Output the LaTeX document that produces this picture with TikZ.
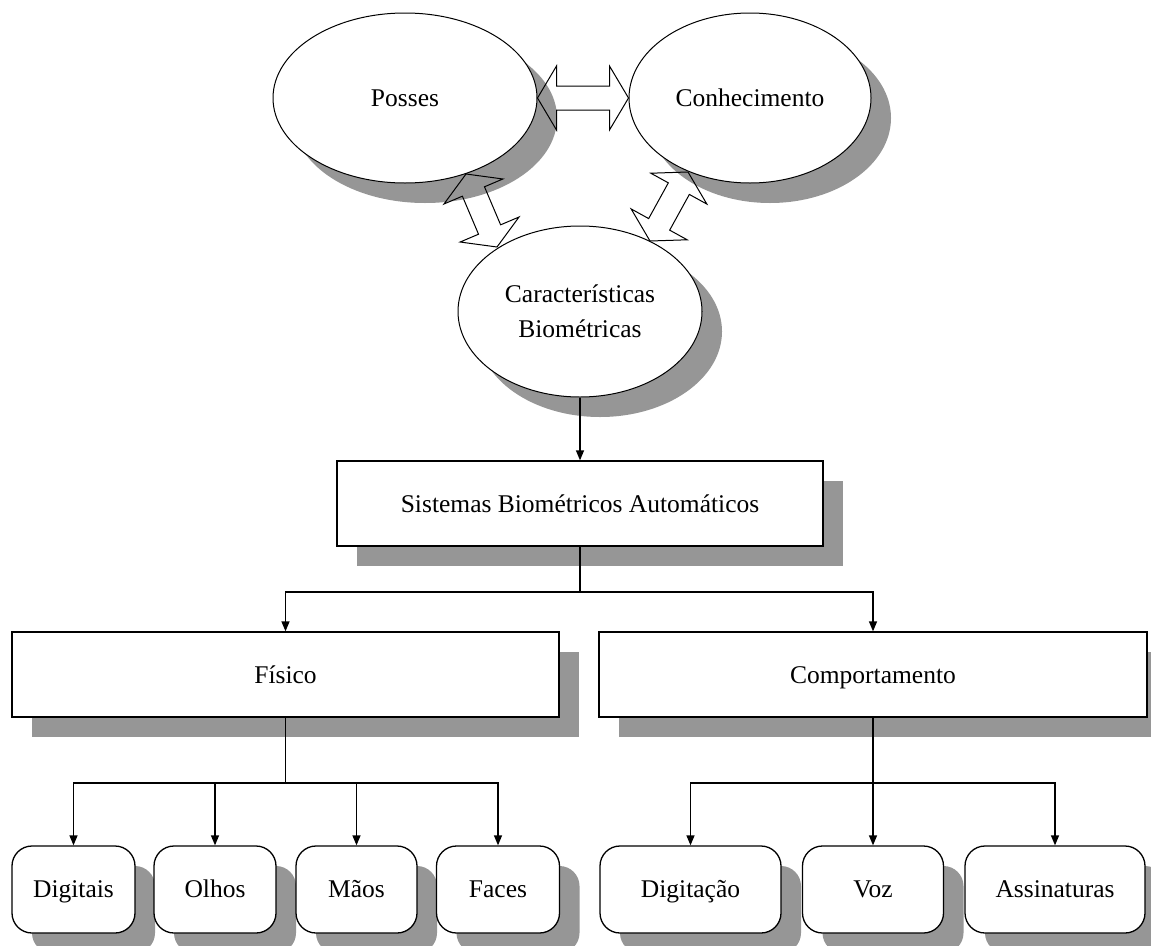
\documentclass[tikz,border=0pt]{standalone}
\usepackage{fontspec}
\setmainfont{Liberation Serif}
\usetikzlibrary{shapes.geometric,shadows,arrows.meta,calc}
\definecolor{shadowgray}{RGB}{150,150,150}
\newcommand\dblarr[2]{%
  \path ($(#1)!19pt!(#2)$) coordinate (da) ($(#2)!19pt!(#1)$) coordinate (db);
  \draw[dbl] (#1) -- ($(da)!32pt!90:(#2)$) -- ($(da)!12pt!90:(#2)$)
    -- ($(db)!12pt!-90:(#1)$) -- ($(db)!32pt!-90:(#1)$) -- (#2)
    -- ($(db)!32pt!90:(#1)$) -- ($(db)!12pt!90:(#1)$)
    -- ($(da)!12pt!-90:(#2)$) -- ($(da)!32pt!-90:(#2)$) -- cycle;}
\begin{document}
\begin{tikzpicture}[x=1pt,y=-1pt,
  txt/.style={font=\fontsize{25.5}{35}\selectfont},
  shad/.style={drop shadow={shadow xshift=20pt,shadow yshift=-20pt,fill=shadowgray,opacity=1}},
  oval/.style={ellipse,draw,fill=white,line width=1pt,inner sep=0pt,shad,txt,align=center},
  box/.style={rectangle,draw,fill=white,line width=1.3pt,minimum height=85pt,inner sep=0pt,shad,txt,text height=21pt,text depth=4pt},
  leaf/.style={rectangle,rounded corners=20pt,draw,fill=white,line width=1.3pt,minimum height=87pt,inner sep=0pt,shad,txt,text height=20pt,text depth=4pt},
  conn/.style={line width=1.3pt,-{Triangle[length=10pt,width=8pt]}},
  plain/.style={line width=1.3pt},
  dbl/.style={draw,line width=1pt,line join=miter}]
\useasboundingbox (0,0) rectangle (1151,945);
\fill[white] (0,0) rectangle (1151,945);

\node[oval,minimum width=264pt,minimum height=170pt] (posses) at (405,98) {Posses};
\node[oval,minimum width=242pt,minimum height=170pt] (conhec) at (750,98) {Conhecimento};
\node[oval,minimum width=244pt,minimum height=171pt] (carac) at (580,311.5) {Características\\Biométricas};

% double arrows between the three ovals (tips on their borders)
\coordinate (pa) at (posses.east);
\coordinate (ca) at (conhec.west);
\coordinate (dl1) at (466,174);
\coordinate (dl2) at (497,247);
\coordinate (dr1) at (688,172);
\coordinate (dr2) at (650,241);
\dblarr{pa}{ca}
\dblarr{dl1}{dl2}
\dblarr{dr1}{dr2}

\node[box,minimum width=486pt] (sist) at (580,503.5) {Sistemas Biométricos Automáticos};
\node[box,minimum width=547pt] (fis) at (285.5,674.5) {Físico};
\node[box,minimum width=548pt] (comp) at (873,674.5) {Comportamento};

\node[leaf,minimum width=123pt] (dig) at (73.5,889.5) {Digitais};
\node[leaf,minimum width=122pt] (olh) at (215,889.5) {Olhos};
\node[leaf,minimum width=121pt] (mao) at (356.5,889.5) {Mãos};
\node[leaf,minimum width=123pt] (fac) at (498,889.5) {Faces};
\node[leaf,minimum width=181pt] (dgt) at (690.5,889.5) {Digitação};
\node[leaf,minimum width=141pt] (voz) at (873,889.5) {Voz};
\node[leaf,minimum width=180pt] (ass) at (1055,889.5) {Assinaturas};

\draw[conn] (carac.south) -- (sist.north);
\coordinate (j1) at (580,592);
\draw[plain] (sist.south) -- (j1);
\draw[conn] (j1) -| (fis.north);
\draw[conn] (j1) -| (comp.north);

\coordinate (j2) at (285.5,783);
\draw[plain] (fis.south) -- (j2);
\draw[conn] (j2) -| (dig.north);
\draw[conn] (j2) -| (olh.north);
\draw[conn] (j2) -| (mao.north);
\draw[conn] (j2) -| (fac.north);

\coordinate (j3) at (873,783);
\draw[conn] (comp.south) -- (voz.north);
\draw[conn] (j3) -| (dgt.north);
\draw[conn] (j3) -| (ass.north);
\end{tikzpicture}
\end{document}
